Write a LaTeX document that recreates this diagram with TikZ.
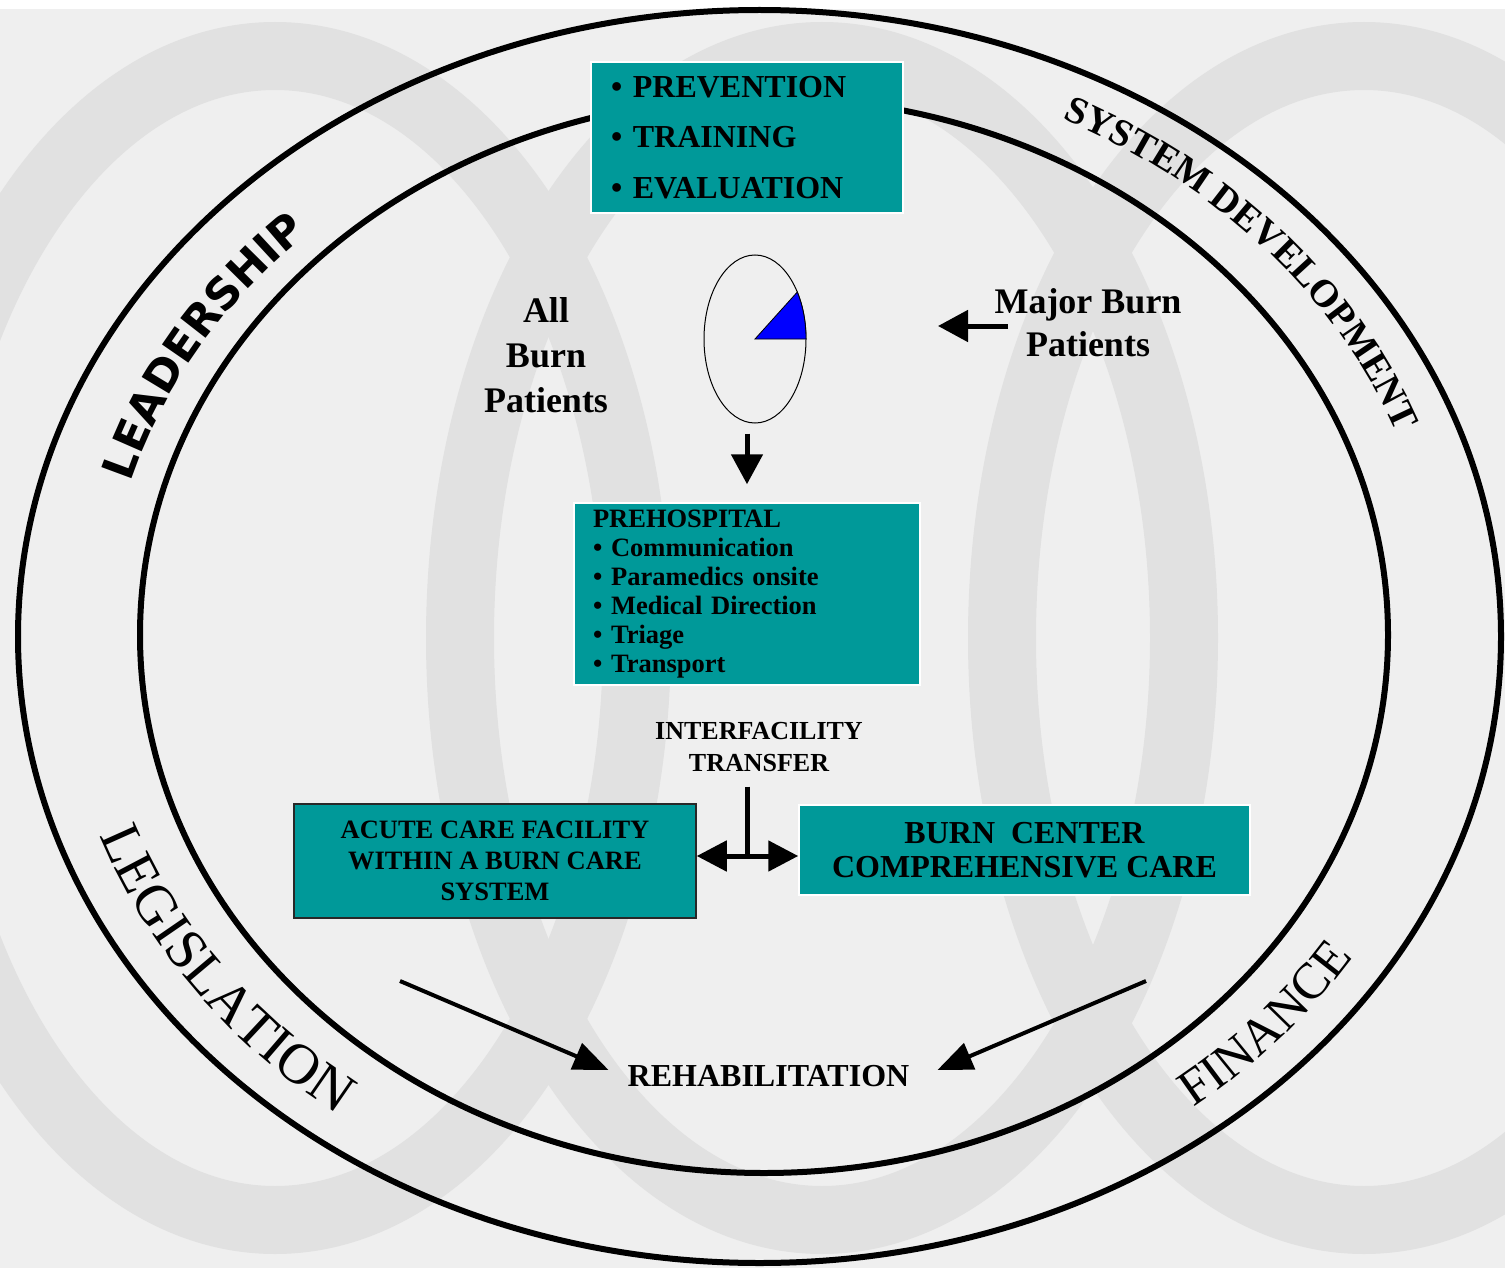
\documentclass[tikz,border=0pt]{standalone}
\usepackage{fontspec}
\setmainfont{Liberation Serif}
\newfontfamily\leadfamily{DejaVu Sans}
\usetikzlibrary{arrows.meta,decorations.text,shapes.geometric}
\definecolor{paper}{RGB}{239,239,239}
\definecolor{ringgray}{RGB}{225,225,225}
\definecolor{boxteal}{RGB}{0,153,153}
\definecolor{wedgeblue}{RGB}{0,0,255}
\definecolor{darkline}{RGB}{40,40,40}
\newcommand\leadfont{\leadfamily\bfseries\fontsize{44}{44}\selectfont}
\newcommand\sysfont{\bfseries\fontsize{38.5}{38.5}\selectfont}
\newcommand\legfont{\fontsize{57}{57}\selectfont}
\newcommand\finfont{\fontsize{51}{51}\selectfont}
\begin{document}
\begin{tikzpicture}
	[x=1pt,y=-1pt,
	tealbox/.style={draw=white,line width=1.5pt,fill=boxteal,inner sep=0pt},
	ring/.style={draw=ringgray,line width=68pt},
	band/.style={draw=black,line width=6pt},
	lbl/.style={inner sep=0pt,align=center},
	fat/.style={line width=5pt,-{Triangle[length=30pt,width=31pt]}},
	fatboth/.style={line width=5pt,{Triangle[length=30pt,width=30pt]}-{Triangle[length=30pt,width=30pt]}},
	slim/.style={line width=4pt,-{Triangle[length=35pt,width=28pt]}},
	arctext/.style={decorate,decoration={text along path,text align=center,text={#1}}}
	]
	\useasboundingbox (0,0) rectangle (1505,1268);
	\fill[white] (0,0) rectangle (1505,1268);
	\fill[paper] (0,9) rectangle (1505,1268);
	\begin{scope}
		\clip (0,9) rectangle (1505,1268);
		\foreach \cx in {275,822,1364}
			\draw[ring] (\cx,638) ellipse [x radius=362,y radius=582];
	\end{scope}
	\draw[band] (759.5,636.5) ellipse [x radius=741.5,y radius=626.5];
	\draw[band] (764,635) ellipse [x radius=624,y radius=538];

	\begin{scope}[shift={(762,636)}]
		\path[arctext={|\leadfont|LEADERSHIP}] (182.5:657 and 557) arc[start angle=182.5,end angle=238.5,x radius=657,y radius=557];
		\path[arctext={|\sysfont|SYSTEM DEVELOPMENT}] (290.2:678 and 577) arc[start angle=290.2,end angle=346.2,x radius=678,y radius=577];
		\path[arctext={|\legfont|LEGISLATION}] (172.5:702 and 601) arc[start angle=172.5,end angle=116.5,x radius=702,y radius=601];
		\path[arctext={|\finfont|FINANCE}] (69.3:700 and 599) arc[start angle=69.3,end angle=13.3,x radius=700,y radius=599];
	\end{scope}

	\node[tealbox,minimum width=312pt,minimum height=151pt,text width=272pt,align=left,
		font=\bfseries\fontsize{32}{50.5}\selectfont] (tasks) at (747,137.5)
		{\textbullet\ PREVENTION\\\textbullet\ TRAINING\\\textbullet\ EVALUATION};
	\node[draw,ellipse,line width=1pt,minimum width=102pt,minimum height=168pt,inner sep=0pt] (pie) at (755,339) {};
	\filldraw[fill=wedgeblue,line width=0.8pt] (pie.center) -- ++(51,0) arc[start angle=0,end angle=-34,x radius=51,y radius=84] -- cycle;
	\node[lbl,font=\bfseries\fontsize{36}{45}\selectfont] (allburn) at (546,355) {All\\Burn\\Patients};
	\node[lbl,font=\bfseries\fontsize{36}{43}\selectfont] (major) at (1088,323) {Major Burn\\Patients};
	\node[tealbox,minimum width=346pt,minimum height=182pt,text width=308pt,align=left,
		font=\bfseries\fontsize{26.5}{28.9}\selectfont] (prehosp) at (747,594)
		{PREHOSPITAL\\\textbullet\ Communication\\\textbullet\ Paramedics onsite\\\textbullet\ Medical Direction\\\textbullet\ Triage\\\textbullet\ Transport};
	\node[lbl,inner ysep=15pt,font=\bfseries\fontsize{26}{31.5}\selectfont] (transfer) at (759,747) {INTERFACILITY\\TRANSFER};
	\node[tealbox,draw=darkline,minimum width=402pt,minimum height=114pt,align=center,
		font=\bfseries\fontsize{26.5}{31}\selectfont] (acute) at (495,861) {ACUTE CARE FACILITY\\WITHIN A BURN CARE\\SYSTEM};
	\node[tealbox,minimum width=451pt,minimum height=90pt,align=center,
		font=\bfseries\fontsize{32}{34}\selectfont] (burn) at (1024.5,850) {BURN\ \ CENTER\\COMPREHENSIVE CARE};
	\node[lbl,font=\bfseries\fontsize{32}{32}\selectfont] (rehab) at (768.5,1076) {REHABILITATION};

	\coordinate (majortail) at (1008,326);
	\coordinate (majortip) at (938,326);
	\coordinate (tjoin) at (747,856);
	\coordinate (acutefoot) at (400,981);
	\coordinate (burnfoot) at (1146,981);
	\draw[fat,shorten <=10pt,shorten >=18pt] (pie.south -| prehosp.north) -- (prehosp.north);
	\draw[fat] (majortail) -- (majortip);
	\draw[line width=5pt] (transfer.south -| tjoin) -- (tjoin);
	\draw[fatboth] (acute.east |- tjoin) -- (burn.west |- tjoin);
	\draw[slim] (acutefoot) -- ([xshift=-19pt,yshift=6pt]rehab.west);
	\draw[slim] (burnfoot) -- ([xshift=28pt,yshift=6pt]rehab.east);
\end{tikzpicture}
\end{document}
